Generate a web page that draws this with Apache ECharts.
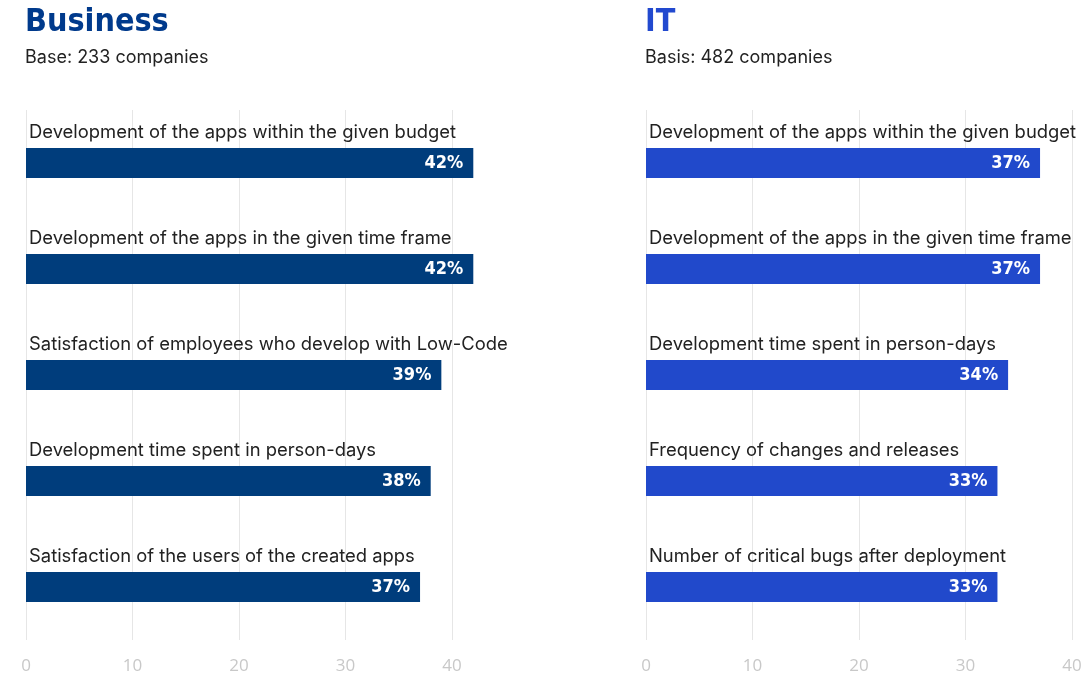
<!DOCTYPE html>
<html>
<head>
<meta charset="utf-8">
<script src="https://cdn.jsdelivr.net/npm/echarts@6/dist/echarts.min.js"></script>
<style>
  html, body { margin: 0; padding: 0; background: #fff; }
  #chart { width: 1091px; height: 676px; }
</style>
</head>
<body>
<div id="chart"></div>
<script>
// data
var businessCats = [
  'Development of the apps within the given budget',
  'Development of the apps in the given time frame',
  'Satisfaction of employees who develop with Low-Code',
  'Development time spent in person-days',
  'Satisfaction of the users of the created apps'
];
var businessVals = [42, 42, 39, 38, 37];

var itCats = [
  'Development of the apps within the given budget',
  'Development of the apps in the given time frame',
  'Development time spent in person-days',
  'Frequency of changes and releases',
  'Number of critical bugs after deployment'
];
var itVals = [37, 37, 34, 33, 33];

var axisTicks = [0, 10, 20, 30, 40];

// condensed font for titles and value labels
var narrow = '"DejaVu Sans Condensed", "Liberation Sans Narrow", Roboto, sans-serif';

var chart = echarts.init(document.getElementById('chart'));

function xAxisFor(idx) {
  return {
    type: 'value', gridIndex: idx,
    min: axisTicks[0], max: axisTicks[axisTicks.length - 1], interval: 10,
    axisLine: { show: false }, axisTick: { show: false },
    splitLine: { lineStyle: { color: '#e6e6e6', width: 1 } },
    axisLabel: { color: '#c8c8c8', fontSize: 17, fontFamily: 'Open Sans', margin: 18 }
  };
}
function yAxisFor(idx, cats) {
  return {
    type: 'category', gridIndex: idx, data: cats, inverse: true,
    axisLine: { show: false }, axisTick: { show: false },
    axisLabel: {
      inside: true, margin: 3, verticalAlign: 'bottom',
      padding: [0, 0, 22, 0],
      color: '#222', fontSize: 18.4, fontFamily: 'Inter'
    },
    z: 5
  };
}
function barFor(idx, vals, color) {
  return {
    type: 'bar', xAxisIndex: idx, yAxisIndex: idx, data: vals,
    barWidth: 30, clip: false,
    itemStyle: { color: color },
    label: {
      show: true, position: 'insideRight', distance: 10,
      formatter: '{c}%', color: '#fff', fontSize: 18, fontWeight: 'bold',
      fontFamily: narrow
    }
  };
}

chart.setOption({
  animation: false,
  title: [
    { text: 'Business', subtext: 'Base: 233 companies', left: 20, top: 2,
      textStyle: { color: '#003a8c', fontSize: 32, fontWeight: 'bold', fontFamily: narrow },
      subtextStyle: { color: '#222', fontSize: 18, fontFamily: 'Inter' }, itemGap: 10 },
    { text: 'IT', subtext: 'Basis: 482 companies', left: 640, top: 2,
      textStyle: { color: '#2249cf', fontSize: 32, fontWeight: 'bold', fontFamily: narrow },
      subtextStyle: { color: '#222', fontSize: 18, fontFamily: 'Inter' }, itemGap: 10 }
  ],
  grid: [
    { left: 26, width: 426, top: 110, bottom: 36 },
    { left: 646, width: 426, top: 110, bottom: 36 }
  ],
  xAxis: [xAxisFor(0), xAxisFor(1)],
  yAxis: [yAxisFor(0, businessCats), yAxisFor(1, itCats)],
  series: [barFor(0, businessVals, '#003d7c'), barFor(1, itVals, '#2149cb')]
});
</script>
</body>
</html>
